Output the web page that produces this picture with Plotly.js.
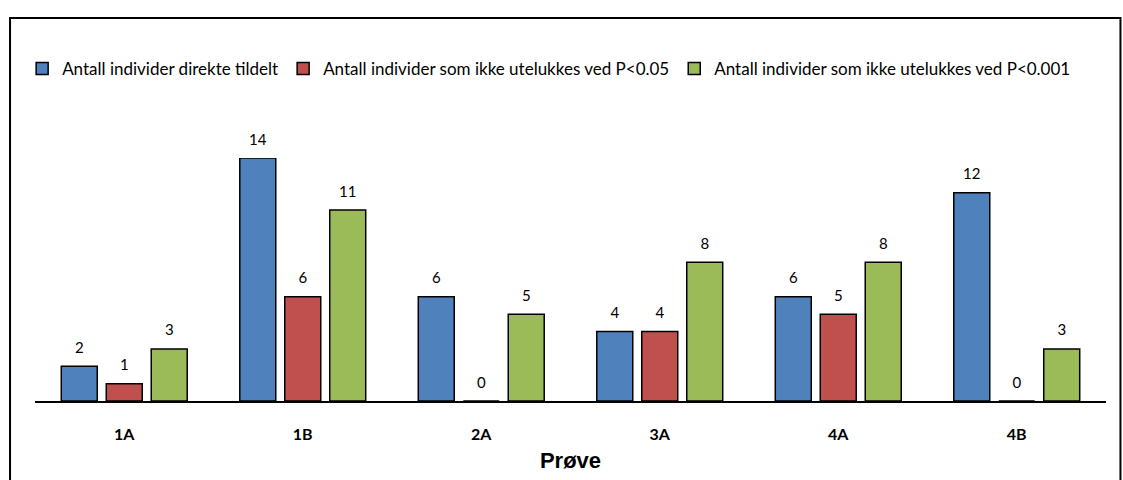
<!DOCTYPE html>
<html><head><meta charset="utf-8">
<script src="https://cdn.plot.ly/plotly-3.0.1.min.js"></script>
<style>html,body{margin:0;padding:0;background:#fff}#chart{width:1123px;height:480px}</style>
</head><body><div id="chart"></div>
<script>
var categories = ['1A','1B','2A','3A','4A','4B'];
var seriesNames = ['Antall individer direkte tildelt','Antall individer som ikke utelukkes ved P<0.05','Antall individer som ikke utelukkes ved P<0.001'];
var direkte = [2,14,6,4,6,12];
var p005 = [1,6,0,4,5,0];
var p0001 = [3,11,5,8,8,3];
var colors = ['#4F81BD','#C0504D','#9BBB59'];
var font = 'Lato, "Open Sans", sans-serif';

var data = [];
[direkte,p005,p0001].forEach(function(v,i){
  data.push({type:'bar', x:categories, y:v, name:seriesNames[i], offsetgroup:String(i),
    marker:{color:colors[i], line:{color:'#000', width:1.5}}, hoverinfo:'none'});
});
[direkte,p005,p0001].forEach(function(v,i){
  data.push({type:'scatter', mode:'markers+text', x:categories, y:v, offsetgroup:String(i),
    showlegend:false, text:v.map(String), textposition:'top center', cliponaxis:false,
    marker:{size:14, color:'rgba(0,0,0,0)'},
    textfont:{family:font, size:15, color:'#000'}, hoverinfo:'none'});
});

var layout = {
  width:1123, height:480,
  margin:{l:35, r:17, t:158, b:79},
  paper_bgcolor:'#fff', plot_bgcolor:'#fff',
  barmode:'group', bargap:0.244, bargroupgap:0.2,
  scattermode:'group', scattergap:0.244,
  showlegend:true,
  legend:{orientation:'h', x:-0.012, xanchor:'left', y:1.366, yanchor:'middle',
    font:{family:font, size:17, color:'#000'}, traceorder:'normal',
    itemwidth:30, tracegroupgap:0, bgcolor:'rgba(0,0,0,0)'},
  xaxis:{showline:true, linecolor:'#000', linewidth:2, ticks:'', showgrid:false, zeroline:false,
    tickfont:{family:font, size:16, color:'#000', weight:'bold'}, ticklabelstandoff:18,
    title:{text:'Prøve', font:{family:'Liberation Sans, Arial, sans-serif', size:22, color:'#000', weight:'bold'}, standoff:10}},
  yaxis:{visible:false, range:[0,14], fixedrange:true},
  shapes:[{type:'rect', xref:'paper', yref:'paper', x0:-0.0233, x1:1.0135, y0:-0.5, y1:1.576,
    line:{color:'#000', width:2}, fillcolor:'rgba(0,0,0,0)'}]
};
Plotly.newPlot('chart', data, layout, {displayModeBar:false, staticPlot:true});
</script></body></html>
